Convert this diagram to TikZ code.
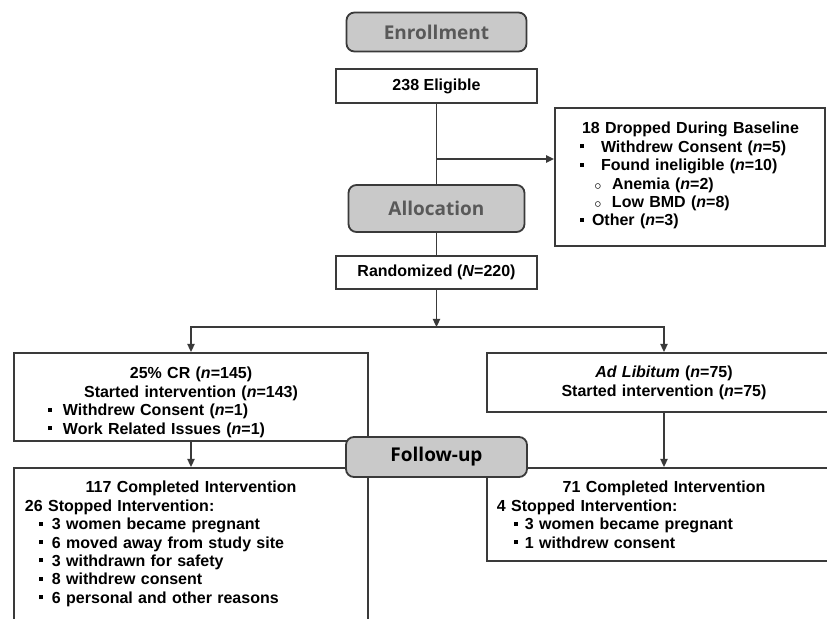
\documentclass[tikz,border=0pt]{standalone}
\usepackage{fontspec}
\setmainfont{Liberation Sans}
\newfontfamily\stagefont{Open Sans}
\usetikzlibrary{arrows.meta,positioning}

\definecolor{stagegray}{HTML}{C9C9C9}
\definecolor{stagetext}{HTML}{595959}
\definecolor{boxline}{HTML}{3A3A3A}

% bullets and list lines inside the boxes
\newcommand{\sqbul}{\raisebox{2pt}{\rule{2pt}{2pt}}}
\newcommand{\cibul}{$\scriptstyle\circ$}
\newcommand{\bitem}[4]{\hspace*{#1}\rlap{#3}\hspace*{\dimexpr#2-#1\relax}#4}
\newcommand{\midline}[1]{\makebox[\hsize][c]{#1}}

\begin{document}
\begin{tikzpicture}[x=0.5pt, y=-0.5pt,
    stage/.style={rectangle, rounded corners=4pt, draw=boxline, fill=stagegray,
        line width=0.9pt, text=stagetext, minimum width=90pt, minimum height=20pt,
        font=\stagefont\bfseries\fontsize{9.5}{11}\selectfont},
    plain/.style={rectangle, draw=boxline, line width=0.9pt, fill=white,
        minimum width=100.5pt, minimum height=17pt,
        font=\bfseries\fontsize{8}{9.2}\selectfont},
    listbox/.style={rectangle, draw=boxline, line width=0.9pt, fill=white,
        anchor=north, inner sep=0pt, align=left,
        font=\bfseries\fontsize{8}{9.2}\selectfont},
    line/.style={draw=boxline, line width=0.8pt},
    arrow/.style={line, -{Triangle[length=4pt,width=3.6pt]}}]

    \useasboundingbox (0,0) rectangle (827,619);
    \clip (0,0) rectangle (827,619);

    \node[stage, minimum height=19.5pt] (enroll) at (436.5,32) {Enrollment};
    \node[plain] (elig) at (436.5,86) {238 Eligible};
    \node[stage, minimum width=88pt, minimum height=23.5pt] (alloc) at (436.5,208.5) {Allocation};
    \node[plain, minimum height=16.5pt] (rand) at (436.5,272.5) {Randomized (\textit{N}=220)};

    \node[listbox, text width=135pt, text height=13pt, text depth=56pt] (drop) at (690,107)
        {\hspace*{13.5pt}18 Dropped During Baseline\\
         \bitem{12.5pt}{23pt}{\sqbul}{Withdrew Consent (\textit{n}=5)}\\
         \bitem{12.5pt}{23pt}{\sqbul}{Found ineligible (\textit{n}=10)}\\
         \bitem{19.5pt}{28.5pt}{\cibul}{Anemia (\textit{n}=2)}\\
         \bitem{19.5pt}{28.5pt}{\cibul}{Low BMD (\textit{n}=8)}\\
         \bitem{12.5pt}{18.5pt}{\sqbul}{Other (\textit{n}=3)}};

    \node[listbox, text width=177pt, text height=13pt, text depth=31pt] (cr) at (191,352)
        {\midline{25\% CR (\textit{n}=145)}\\
         \midline{Started intervention (\textit{n}=143)}\\
         \bitem{17pt}{24.5pt}{\sqbul}{Withdrew Consent (\textit{n}=1)}\\
         \bitem{17pt}{24.5pt}{\sqbul}{Work Related Issues (\textit{n}=1)}};
    \node[listbox, text width=177pt, text height=12.5pt, text depth=17pt] (al) at (664,352)
        {\midline{\textit{Ad Libitum} (\textit{n}=75)}\\
         \midline{Started intervention (\textit{n}=75)}};

    \node[listbox, text width=177pt, text height=12.5pt, text depth=90pt] (crdone) at (191,467)
        {\midline{117 Completed Intervention}\\
         \hspace*{5.5pt}26 Stopped Intervention:\\
         \bitem{12.5pt}{19pt}{\sqbul}{3 women became pregnant}\\
         \bitem{12.5pt}{19pt}{\sqbul}{6 moved away from study site}\\
         \bitem{12.5pt}{19pt}{\sqbul}{3 withdrawn for safety}\\
         \bitem{12.5pt}{19pt}{\sqbul}{8 withdrew consent}\\
         \bitem{12.5pt}{19pt}{\sqbul}{6 personal and other reasons}};
    \node[listbox, text width=177pt, text height=12.5pt, text depth=34pt] (aldone) at (664,467)
        {\midline{71 Completed Intervention}\\
         \hspace*{5pt}4 Stopped Intervention:\\
         \bitem{13.5pt}{19pt}{\sqbul}{3 women became pregnant}\\
         \bitem{13.5pt}{19pt}{\sqbul}{1 withdrew consent}};

    \node[stage, minimum width=90.5pt, text=black] (follow) at (436.5,457) {Follow-up};

    \coordinate (split) at (436.5,159);
    \coordinate (fork) at (436.5,327);

    \draw[line] (elig) -- (alloc);
    \draw[line] (alloc) -- (rand);
    \draw[arrow] (split) -- (split -| drop.west);
    \draw[arrow] (rand) -- (fork);
    \draw[arrow] (fork) -| (cr);
    \draw[arrow] (fork) -| (al);
    \draw[arrow] (cr) -- (crdone);
    \draw[arrow] (al) -- (aldone);
\end{tikzpicture}
\end{document}
